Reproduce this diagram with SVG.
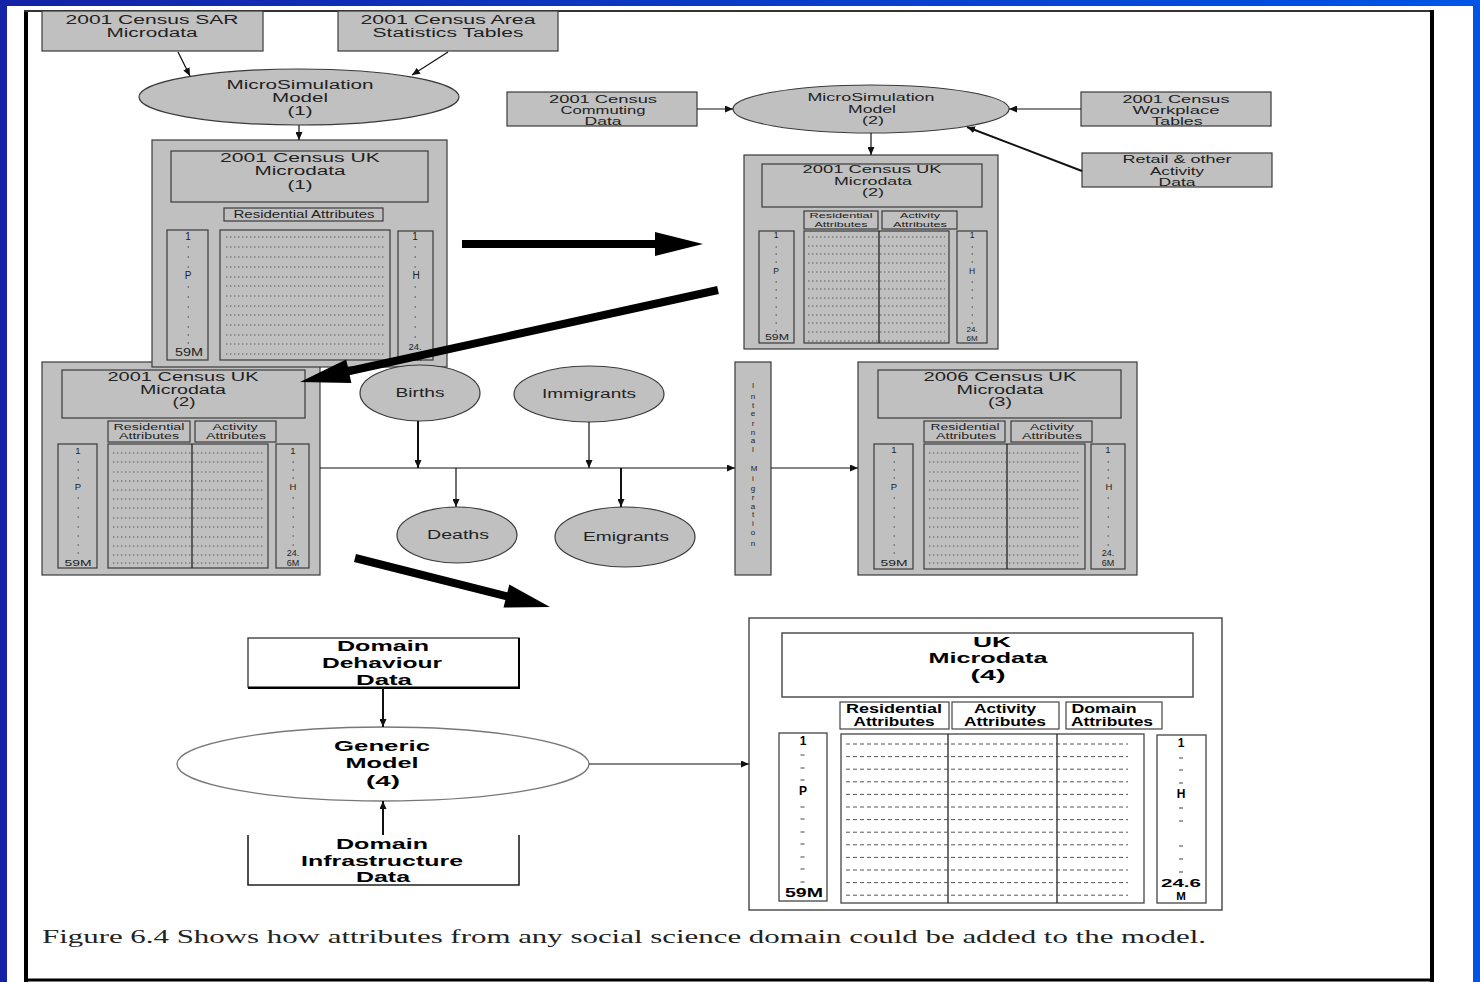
<svg xmlns="http://www.w3.org/2000/svg" width="1480" height="982" viewBox="0 0 1480 982">
<defs>
<linearGradient id="blue" x1="0" y1="0" x2="1" y2="0">
<stop offset="0" stop-color="#1422a6"/>
<stop offset="1" stop-color="#0055e6"/>
</linearGradient>
<marker id="ah" viewBox="0 0 8 7" refX="8" refY="3.5" markerWidth="8" markerHeight="7" markerUnits="userSpaceOnUse" orient="auto">
<path d="M0,0 L8,3.5 L0,7 z" fill="#111"/>
</marker>
</defs>
<style>
.g{fill:#c0c0c0;stroke:#3a3a3a;stroke-width:1.2}
.w{fill:#fff;stroke:#333;stroke-width:1.3}
.t{font-family:"Liberation Sans",Arial,sans-serif;fill:#222;text-anchor:middle}
.b{font-weight:bold;fill:#000}
.dl{fill:none;stroke:#555;stroke-width:0.9;stroke-dasharray:1.5 2.5}
.dd{fill:none;stroke:#444;stroke-width:0.9;stroke-dasharray:4 3}
.mk{fill:none;stroke:#444;stroke-width:1.2}
.c{fill:none;stroke:#111;stroke-width:1.2}
.c2{fill:none;stroke:#111;stroke-width:2}
.big{fill:none;stroke:#000;stroke-width:8}
</style>
<rect x="0" y="0" width="1480" height="982" fill="url(#blue)"/>
<rect x="7" y="6" width="1466" height="976" fill="#fff"/>
<g id="frame" stroke="#000" fill="none">
<line x1="26" y1="10" x2="26" y2="982" stroke-width="4"/>
<line x1="24" y1="11" x2="1434" y2="11" stroke-width="2" stroke="#333"/>
<line x1="1432" y1="10" x2="1432" y2="982" stroke-width="4"/>
<line x1="24" y1="980" x2="1434" y2="980" stroke-width="3"/>
</g>

<g id="sar">
<rect class="g" x="42" y="11" width="221" height="40"/>
<text class="t" x="152" y="24" font-size="12.5" textLength="173" lengthAdjust="spacingAndGlyphs">2001 Census SAR</text>
<text class="t" x="152" y="37" font-size="12.5" textLength="91" lengthAdjust="spacingAndGlyphs">Microdata</text>
</g>
<g id="ast">
<rect class="g" x="338" y="11" width="220" height="40"/>
<text class="t" x="448" y="24" font-size="12.5" textLength="175" lengthAdjust="spacingAndGlyphs">2001 Census Area</text>
<text class="t" x="448" y="37" font-size="12.5" textLength="151" lengthAdjust="spacingAndGlyphs">Statistics Tables</text>
</g>
<g id="msm1">
<ellipse class="g" cx="299" cy="97" rx="160" ry="28"/>
<text class="t" x="300" y="89" font-size="12.5" textLength="147" lengthAdjust="spacingAndGlyphs">MicroSimulation</text>
<text class="t" x="300" y="102" font-size="12.5" textLength="56" lengthAdjust="spacingAndGlyphs">Model</text>
<text class="t" x="300" y="115" font-size="12.5" textLength="25" lengthAdjust="spacingAndGlyphs">(1)</text>
</g>

<g id="ukmd2bl">
<rect class="g" x="42" y="362" width="278" height="213"/>
<rect class="g" x="62" y="370" width="243" height="48"/>
<text class="t" x="183" y="381" font-size="12" textLength="151" lengthAdjust="spacingAndGlyphs">2001 Census UK</text>
<text class="t" x="183" y="394" font-size="12" textLength="86" lengthAdjust="spacingAndGlyphs">Microdata</text>
<text class="t" x="184" y="406" font-size="12" textLength="23" lengthAdjust="spacingAndGlyphs">(2)</text>
<rect class="g" x="108" y="421" width="82" height="21"/>
<text class="t" x="149" y="430" font-size="8.5" textLength="71" lengthAdjust="spacingAndGlyphs">Residential</text>
<text class="t" x="149" y="439" font-size="8.5" textLength="60" lengthAdjust="spacingAndGlyphs">Attributes</text>
<rect class="g" x="195" y="421" width="81" height="21"/>
<text class="t" x="235" y="430" font-size="8.5" textLength="45" lengthAdjust="spacingAndGlyphs">Activity</text>
<text class="t" x="236" y="439" font-size="8.5" textLength="60" lengthAdjust="spacingAndGlyphs">Attributes</text>
<rect class="g" x="58" y="444" width="39" height="124"/>
<text class="t" x="78" y="454" font-size="9.5">1</text>
<text class="t" x="78" y="490" font-size="9.5">P</text>
<text class="t" x="78" y="566" font-size="9.5" textLength="27" lengthAdjust="spacingAndGlyphs">59M</text>
<path class="mk" d="M77.5,462h1.5M77.5,470h1.5M77.5,478h1.5M77.5,498h1.5M77.5,508h1.5M77.5,517h1.5M77.5,527h1.5M77.5,536h1.5M77.5,545h1.5M77.5,553h1.5"/>
<rect class="g" x="108" y="444" width="160" height="124"/>
<line x1="192" y1="444" x2="192" y2="568" stroke="#222" stroke-width="1.3"/>
<path class="dl" d="M113,453H264M113,462H264M113,472H264M113,481H264M113,490H264M113,499H264M113,508H264M113,518H264M113,527H264M113,537H264M113,546H264M113,555H264M113,563H264"/>
<rect class="g" x="276" y="444" width="33" height="124"/>
<text class="t" x="293" y="454" font-size="9.5">1</text>
<text class="t" x="293" y="490" font-size="9.5">H</text>
<text class="t" x="293" y="556" font-size="9">24.</text>
<text class="t" x="293" y="566" font-size="9">6M</text>
<path class="mk" d="M292.5,462h1.5M292.5,470h1.5M292.5,478h1.5M292.5,498h1.5M292.5,508h1.5M292.5,517h1.5M292.5,527h1.5M292.5,536h1.5M292.5,545h1.5"/>
</g>

<g id="ukmd1">
<rect class="g" x="152" y="140" width="295" height="227"/>
<rect class="g" x="171" y="151" width="257" height="51"/>
<text class="t" x="300" y="162" font-size="12.5" textLength="160" lengthAdjust="spacingAndGlyphs">2001 Census UK</text>
<text class="t" x="300" y="175" font-size="12.5" textLength="91" lengthAdjust="spacingAndGlyphs">Microdata</text>
<text class="t" x="300" y="189" font-size="12.5" textLength="25" lengthAdjust="spacingAndGlyphs">(1)</text>
<rect class="g" x="224" y="208" width="159" height="13"/>
<text class="t" x="304" y="218" font-size="10" textLength="141" lengthAdjust="spacingAndGlyphs">Residential Attributes</text>
<rect class="g" x="167" y="230" width="41" height="130"/>
<text class="t" x="188" y="240" font-size="10">1</text>
<text class="t" x="188" y="279" font-size="10">P</text>
<text class="t" x="189" y="356" font-size="10" textLength="28" lengthAdjust="spacingAndGlyphs">59M</text>
<path class="mk" d="M187.5,247h1.5M187.5,257h1.5M187.5,267h1.5M187.5,287h1.5M187.5,297h1.5M187.5,307h1.5M187.5,317h1.5M187.5,327h1.5M187.5,335h1.5M187.5,343h1.5"/>
<rect class="g" x="220" y="230" width="170" height="130"/>
<path class="dl" d="M226,237H384M226,247H384M226,257H384M226,267H384M226,277H384M226,286H384M226,296H384M226,306H384M226,315H384M226,325H384M226,335H384M226,344H384M226,354H384"/>
<rect class="g" x="398" y="231" width="35" height="129"/>
<text class="t" x="415" y="240" font-size="10">1</text>
<text class="t" x="416" y="279" font-size="10">H</text>
<text class="t" x="415" y="350" font-size="9.5">24.</text>
<text class="t" x="415" y="361" font-size="9.5">6M</text>
<path class="mk" d="M414.5,247h1.5M414.5,257h1.5M414.5,267h1.5M414.5,287h1.5M414.5,297h1.5M414.5,307h1.5M414.5,317h1.5M414.5,327h1.5M414.5,337h1.5"/>
</g>

<g id="commuting">
<rect class="g" x="507" y="92" width="190" height="34"/>
<text class="t" x="603" y="103" font-size="10.5" textLength="108" lengthAdjust="spacingAndGlyphs">2001 Census</text>
<text class="t" x="603" y="114" font-size="10.5" textLength="85" lengthAdjust="spacingAndGlyphs">Commuting</text>
<text class="t" x="603" y="125" font-size="10.5" textLength="37" lengthAdjust="spacingAndGlyphs">Data</text>
</g>
<g id="msm2">
<ellipse class="g" cx="871" cy="109" rx="138" ry="24"/>
<text class="t" x="871" y="101" font-size="10.5" textLength="127" lengthAdjust="spacingAndGlyphs">MicroSimulation</text>
<text class="t" x="872" y="113" font-size="10.5" textLength="48" lengthAdjust="spacingAndGlyphs">Model</text>
<text class="t" x="873" y="124" font-size="10.5" textLength="22" lengthAdjust="spacingAndGlyphs">(2)</text>
</g>
<g id="workplace">
<rect class="g" x="1081" y="92" width="190" height="34"/>
<text class="t" x="1176" y="103" font-size="10.5" textLength="107" lengthAdjust="spacingAndGlyphs">2001 Census</text>
<text class="t" x="1176" y="114" font-size="10.5" textLength="87" lengthAdjust="spacingAndGlyphs">Workplace</text>
<text class="t" x="1177" y="125" font-size="10.5" textLength="51" lengthAdjust="spacingAndGlyphs">Tables</text>
</g>
<g id="retail">
<rect class="g" x="1082" y="153" width="190" height="34"/>
<text class="t" x="1177" y="163" font-size="10.5" textLength="109" lengthAdjust="spacingAndGlyphs">Retail &amp; other</text>
<text class="t" x="1177" y="175" font-size="10.5" textLength="54" lengthAdjust="spacingAndGlyphs">Activity</text>
<text class="t" x="1177" y="186" font-size="10.5" textLength="37" lengthAdjust="spacingAndGlyphs">Data</text>
</g>

<g id="ukmd2tr">
<rect class="g" x="744" y="155" width="254" height="194"/>
<rect class="g" x="762" y="164" width="220" height="43"/>
<text class="t" x="872" y="173" font-size="11" textLength="139" lengthAdjust="spacingAndGlyphs">2001 Census UK</text>
<text class="t" x="873" y="185" font-size="11" textLength="78" lengthAdjust="spacingAndGlyphs">Microdata</text>
<text class="t" x="873" y="196" font-size="11" textLength="22" lengthAdjust="spacingAndGlyphs">(2)</text>
<rect class="g" x="804" y="211" width="74" height="18"/>
<text class="t" x="841" y="218" font-size="7.5" textLength="63" lengthAdjust="spacingAndGlyphs">Residential</text>
<text class="t" x="841" y="227" font-size="7.5" textLength="53" lengthAdjust="spacingAndGlyphs">Attributes</text>
<rect class="g" x="882" y="211" width="75" height="18"/>
<text class="t" x="920" y="218" font-size="7.5" textLength="40" lengthAdjust="spacingAndGlyphs">Activity</text>
<text class="t" x="920" y="227" font-size="7.5" textLength="54" lengthAdjust="spacingAndGlyphs">Attributes</text>
<rect class="g" x="759" y="231" width="35" height="112"/>
<text class="t" x="776" y="238" font-size="8.5">1</text>
<text class="t" x="776" y="274" font-size="8.5">P</text>
<text class="t" x="777" y="340" font-size="8.5" textLength="24" lengthAdjust="spacingAndGlyphs">59M</text>
<path class="mk" d="M775.5,247h1.5M775.5,254h1.5M775.5,262h1.5M775.5,282h1.5M775.5,290h1.5M775.5,298h1.5M775.5,307h1.5M775.5,315h1.5M775.5,323h1.5M775.5,331h1.5"/>
<rect class="g" x="804" y="231" width="145" height="112"/>
<line x1="879" y1="231" x2="879" y2="343" stroke="#222" stroke-width="1.3"/>
<path class="dl" d="M808,237H945M808,246H945M808,254H945M808,263H945M808,272H945M808,281H945M808,289H945M808,298H945M808,306H945M808,315H945M808,323H945M808,332H945M808,341H945"/>
<rect class="g" x="957" y="231" width="30" height="112"/>
<text class="t" x="972" y="238" font-size="8.5">1</text>
<text class="t" x="972" y="274" font-size="8.5">H</text>
<text class="t" x="972" y="332" font-size="8">24.</text>
<text class="t" x="972" y="341" font-size="8">6M</text>
<path class="mk" d="M971.5,247h1.5M971.5,254h1.5M971.5,262h1.5M971.5,282h1.5M971.5,290h1.5M971.5,298h1.5M971.5,307h1.5M971.5,315h1.5M971.5,323h1.5"/>
</g>

<g id="births">
<ellipse class="g" cx="420" cy="393" rx="60" ry="28"/>
<text class="t" x="420" y="397" font-size="12.5" textLength="49" lengthAdjust="spacingAndGlyphs">Births</text>
</g>
<g id="immigrants">
<ellipse class="g" cx="589" cy="394" rx="75" ry="28"/>
<text class="t" x="589" y="398" font-size="12.5" textLength="94" lengthAdjust="spacingAndGlyphs">Immigrants</text>
</g>
<g id="deaths">
<ellipse class="g" cx="457" cy="535" rx="60" ry="28"/>
<text class="t" x="458" y="539" font-size="12.5" textLength="62" lengthAdjust="spacingAndGlyphs">Deaths</text>
</g>
<g id="emigrants">
<ellipse class="g" cx="625" cy="537" rx="70" ry="30"/>
<text class="t" x="626" y="541" font-size="12.5" textLength="86" lengthAdjust="spacingAndGlyphs">Emigrants</text>
</g>
<g id="internal">
<rect class="g" x="735" y="362" width="36" height="213"/>
<text class="t" font-size="8"><tspan x="753" y="388">I</tspan><tspan x="753" y="399">n</tspan><tspan x="753" y="408">t</tspan><tspan x="753" y="416">e</tspan><tspan x="753" y="426">r</tspan><tspan x="753" y="435">n</tspan><tspan x="753" y="443">a</tspan><tspan x="753" y="452">l</tspan><tspan x="753" y="471"> M</tspan><tspan x="753" y="481">i</tspan><tspan x="753" y="491">g</tspan><tspan x="753" y="500">r</tspan><tspan x="753" y="509">a</tspan><tspan x="753" y="517">t</tspan><tspan x="753" y="526">i</tspan><tspan x="753" y="535">o</tspan><tspan x="753" y="546">n</tspan></text>
</g>

<g id="ukmd3">
<rect class="g" x="858" y="362" width="279" height="213"/>
<rect class="g" x="878" y="370" width="243" height="48"/>
<text class="t" x="1000" y="381" font-size="12" textLength="153" lengthAdjust="spacingAndGlyphs">2006 Census UK</text>
<text class="t" x="1000" y="394" font-size="12" textLength="87" lengthAdjust="spacingAndGlyphs">Microdata</text>
<text class="t" x="1000" y="406" font-size="12" textLength="24" lengthAdjust="spacingAndGlyphs">(3)</text>
<rect class="g" x="924" y="421" width="81" height="21"/>
<text class="t" x="965" y="430" font-size="8.5" textLength="69" lengthAdjust="spacingAndGlyphs">Residential</text>
<text class="t" x="966" y="439" font-size="8.5" textLength="60" lengthAdjust="spacingAndGlyphs">Attributes</text>
<rect class="g" x="1011" y="421" width="81" height="21"/>
<text class="t" x="1052" y="430" font-size="8.5" textLength="44" lengthAdjust="spacingAndGlyphs">Activity</text>
<text class="t" x="1052" y="439" font-size="8.5" textLength="60" lengthAdjust="spacingAndGlyphs">Attributes</text>
<rect class="g" x="874" y="444" width="39" height="125"/>
<text class="t" x="894" y="453" font-size="9.5">1</text>
<text class="t" x="894" y="490" font-size="9.5">P</text>
<text class="t" x="894" y="566" font-size="9.5" textLength="27" lengthAdjust="spacingAndGlyphs">59M</text>
<path class="mk" d="M893.5,462h1.5M893.5,470h1.5M893.5,478h1.5M893.5,498h1.5M893.5,508h1.5M893.5,517h1.5M893.5,527h1.5M893.5,536h1.5M893.5,545h1.5M893.5,553h1.5"/>
<rect class="g" x="924" y="444" width="161" height="125"/>
<line x1="1007" y1="444" x2="1007" y2="569" stroke="#222" stroke-width="1.3"/>
<path class="dl" d="M929,453H1080M929,462H1080M929,472H1080M929,481H1080M929,490H1080M929,499H1080M929,508H1080M929,518H1080M929,527H1080M929,537H1080M929,546H1080M929,555H1080M929,563H1080"/>
<rect class="g" x="1091" y="444" width="34" height="125"/>
<text class="t" x="1108" y="453" font-size="9.5">1</text>
<text class="t" x="1109" y="490" font-size="9.5">H</text>
<text class="t" x="1108" y="556" font-size="9">24.</text>
<text class="t" x="1108" y="566" font-size="9">6M</text>
<path class="mk" d="M1107.5,462h1.5M1107.5,470h1.5M1107.5,478h1.5M1107.5,498h1.5M1107.5,508h1.5M1107.5,517h1.5M1107.5,527h1.5M1107.5,536h1.5M1107.5,545h1.5"/>
</g>

<g id="behaviour">
<rect class="w" x="248" y="638" width="271" height="49"/>
<path d="M519,638V688H248" fill="none" stroke="#000" stroke-width="2"/>
<text class="t b" x="383" y="651" font-size="15.5" textLength="92" lengthAdjust="spacingAndGlyphs">Domain</text>
<text class="t b" x="382" y="668" font-size="15.5" textLength="120" lengthAdjust="spacingAndGlyphs">Dehaviour</text>
<text class="t b" x="384" y="685" font-size="15.5" textLength="56" lengthAdjust="spacingAndGlyphs">Data</text>
</g>
<g id="generic">
<ellipse cx="383" cy="764" rx="206" ry="37" fill="#fff" stroke="#777" stroke-width="1.3"/>
<text class="t b" x="382" y="751" font-size="15.5" textLength="96" lengthAdjust="spacingAndGlyphs">Generic</text>
<text class="t b" x="382" y="768" font-size="15.5" textLength="73" lengthAdjust="spacingAndGlyphs">Model</text>
<text class="t b" x="383" y="786" font-size="15.5" textLength="34" lengthAdjust="spacingAndGlyphs">(4)</text>
</g>
<g id="infrastructure">
<path d="M248,835V885H519V835" fill="none" stroke="#222" stroke-width="1.6"/>
<text class="t b" x="382" y="849" font-size="15.5" textLength="92" lengthAdjust="spacingAndGlyphs">Domain</text>
<text class="t b" x="382" y="866" font-size="15.5" textLength="162" lengthAdjust="spacingAndGlyphs">Infrastructure</text>
<text class="t b" x="383" y="882" font-size="15.5" textLength="54" lengthAdjust="spacingAndGlyphs">Data</text>
</g>

<g id="ukmd4">
<rect x="749" y="618" width="473" height="292" fill="#fff" stroke="#444" stroke-width="1.4"/>
<rect x="782" y="633" width="411" height="64" fill="#fff" stroke="#444" stroke-width="1.4"/>
<text class="t b" x="992" y="647" font-size="15" textLength="38" lengthAdjust="spacingAndGlyphs">UK</text>
<text class="t b" x="988" y="663" font-size="15" textLength="119" lengthAdjust="spacingAndGlyphs">Microdata</text>
<text class="t b" x="988" y="680" font-size="15" textLength="35" lengthAdjust="spacingAndGlyphs">(4)</text>
<rect x="840" y="702" width="109" height="27" fill="#fff" stroke="#444" stroke-width="1.2"/>
<text class="t b" x="894" y="713" font-size="12" textLength="96" lengthAdjust="spacingAndGlyphs">Residential</text>
<text class="t b" x="894" y="726" font-size="12" textLength="81" lengthAdjust="spacingAndGlyphs">Attributes</text>
<rect x="952" y="702" width="107" height="27" fill="#fff" stroke="#444" stroke-width="1.2"/>
<text class="t b" x="1005" y="713" font-size="12" textLength="62" lengthAdjust="spacingAndGlyphs">Activity</text>
<text class="t b" x="1005" y="726" font-size="12" textLength="82" lengthAdjust="spacingAndGlyphs">Attributes</text>
<rect x="1066" y="702" width="96" height="27" fill="#fff" stroke="#444" stroke-width="1.2"/>
<text class="t b" x="1104" y="713" font-size="12" textLength="65" lengthAdjust="spacingAndGlyphs">Domain</text>
<text class="t b" x="1112" y="726" font-size="12" textLength="82" lengthAdjust="spacingAndGlyphs">Attributes</text>
<rect x="779" y="733" width="48" height="168" fill="#fff" stroke="#444" stroke-width="1.3"/>
<text class="t b" x="803" y="745" font-size="12">1</text>
<text class="t b" x="803" y="795" font-size="12">P</text>
<text class="t b" x="804" y="897" font-size="12" textLength="38" lengthAdjust="spacingAndGlyphs">59M</text>
<path class="mk" d="M800.5,755h4M800.5,768h4M800.5,780h4M800.5,807h4M800.5,819h4M800.5,832h4M800.5,844h4M800.5,857h4M800.5,869h4M800.5,882h4"/>
<rect x="841" y="734" width="303" height="169" fill="#fff" stroke="#444" stroke-width="1.3"/>
<line x1="948" y1="734" x2="948" y2="903" stroke="#222" stroke-width="1.3"/>
<line x1="1057" y1="734" x2="1057" y2="903" stroke="#222" stroke-width="1.3"/>
<path class="dd" d="M846,744H1128M846,756.6H1128M846,769.2H1128M846,781.8H1128M846,794.4H1128M846,807H1128M846,819.6H1128M846,832.2H1128M846,844.8H1128M846,857.4H1128M846,870H1128M846,882.6H1128M846,895.2H1128"/>
<rect x="1157" y="735" width="49" height="168" fill="#fff" stroke="#444" stroke-width="1.3"/>
<text class="t b" x="1181" y="747" font-size="12">1</text>
<text class="t b" x="1181" y="798" font-size="12">H</text>
<text class="t b" x="1181" y="887" font-size="11.5" textLength="40" lengthAdjust="spacingAndGlyphs">24.6</text>
<text class="t b" x="1181" y="900" font-size="11.5">M</text>
<path class="mk" d="M1179,758h4M1179,770h4M1179,783h4M1179,808h4M1179,821h4M1179,846h4M1179,859h4M1179,872h4"/>
</g>

<g id="connectors">
<line class="c" x1="178" y1="52" x2="190" y2="76" marker-end="url(#ah)"/>
<line class="c" x1="448" y1="52" x2="412" y2="75" marker-end="url(#ah)"/>
<line class="c" x1="299" y1="125" x2="299" y2="140" marker-end="url(#ah)"/>
<line class="c" x1="697" y1="109" x2="733" y2="109" marker-end="url(#ah)"/>
<line class="c" x1="1081" y1="109" x2="1009" y2="109" marker-end="url(#ah)"/>
<line class="c2" x1="1082" y1="171" x2="967" y2="127" marker-end="url(#ah)"/>
<line class="c" x1="871" y1="133" x2="871" y2="155" marker-end="url(#ah)"/>
<line class="c" x1="320" y1="468" x2="735" y2="468" marker-end="url(#ah)"/>
<line class="c" x1="771" y1="468" x2="858" y2="468" marker-end="url(#ah)"/>
<line class="c2" x1="418" y1="421" x2="418" y2="468" marker-end="url(#ah)"/>
<line class="c" x1="589" y1="422" x2="589" y2="468" marker-end="url(#ah)"/>
<line class="c" x1="456" y1="468" x2="456" y2="507" marker-end="url(#ah)"/>
<line class="c2" x1="621" y1="468" x2="621" y2="507" marker-end="url(#ah)"/>
<line class="c2" x1="383" y1="687" x2="383" y2="727" marker-end="url(#ah)"/>
<line class="c2" x1="383" y1="835" x2="383" y2="801" marker-end="url(#ah)"/>
<line class="c" x1="589" y1="764" x2="749" y2="764" marker-end="url(#ah)"/>
<line class="big" x1="462" y1="244" x2="658" y2="244"/>
<polygon points="703,244 655,232 655,256" fill="#000"/>
<line class="big" x1="718" y1="290" x2="345" y2="372"/>
<polygon points="300,382 351.4,383 346.2,359.6" fill="#000"/>
<line class="big" x1="355" y1="558" x2="510" y2="597"/>
<polygon points="550,607 503.5,607.6 509.3,584.4" fill="#000"/>
</g>

<text x="42" y="943" font-family="'Liberation Serif','Times New Roman',serif" font-size="19" fill="#222" textLength="1164" lengthAdjust="spacingAndGlyphs">Figure 6.4  Shows how attributes from any social science domain could be added to the model.</text>
</svg>
